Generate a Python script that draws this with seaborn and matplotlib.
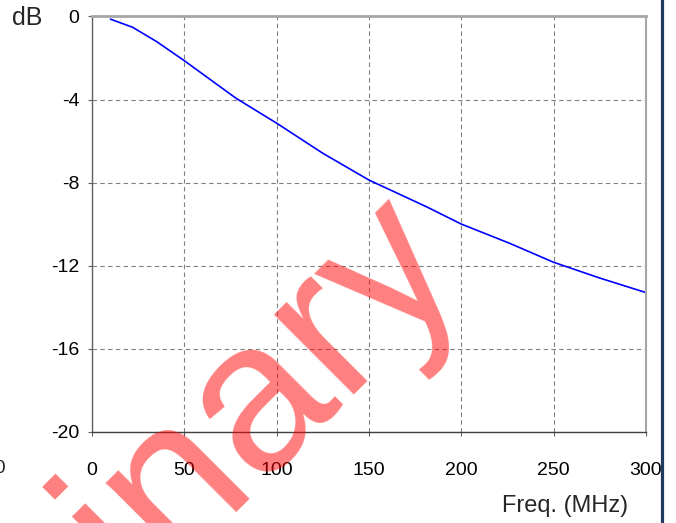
import matplotlib
matplotlib.use("Agg")
import matplotlib.pyplot as plt
from matplotlib.lines import Line2D
import pandas as pd
import seaborn as sns

# ── data ─────────────────────────────────────────────────────────────────────
freq_mhz = [10, 22, 35, 50, 78, 100, 125, 150, 181, 200, 226, 250, 275, 300]
loss_db = [-0.13, -0.52, -1.21, -2.13, -3.94, -5.14, -6.59, -7.88, -9.16,
           -10.0, -10.92, -11.84, -12.6, -13.3]
x_ticks = [0, 50, 100, 150, 200, 250, 300]
y_ticks = [0, -4, -8, -12, -16, -20]

df = pd.DataFrame({"freq": freq_mhz, "db": loss_db})

sns.set_theme(style="white")
plt.rcParams["font.family"] = ["Liberation Sans", "DejaVu Sans"]
plt.rcParams["axes.unicode_minus"] = False

fig = plt.figure(figsize=(6.76, 5.23), dpi=100)
ax = fig.add_axes([0.1361, 0.1746, 0.8195, 0.7939])

sns.lineplot(data=df, x="freq", y="db", color="#0000FF", lw=1.2, ax=ax)

ax.set_xlim(0, 300)
ax.set_ylim(-20, 0)
ax.set_xticks(x_ticks)
ax.set_yticks(y_ticks)
ax.set_xticklabels([str(v) for v in x_ticks])
ax.set_yticklabels([str(v) for v in y_ticks])
ax.set_xlabel("")
ax.set_ylabel("")

ax.grid(True, color="#808080", linestyle=(0, (4, 3)), lw=0.8)
ax.tick_params(axis="both", which="major", length=3, width=0.8,
               colors="#606060", labelcolor="black", labelsize=14,
               direction="out", left=True, bottom=True)
ax.tick_params(axis="x", pad=19)
ax.tick_params(axis="y", pad=6)

ax.spines["top"].set_color("#A6A6A6")
ax.spines["top"].set_linewidth(2)
ax.spines["right"].set_color("#A6A6A6")
ax.spines["right"].set_linewidth(1.5)
ax.spines["left"].set_color("#606060")
ax.spines["left"].set_linewidth(1)
ax.spines["bottom"].set_color("#404040")
ax.spines["bottom"].set_linewidth(1)

fig.text(0.0178, 0.952, "dB", fontsize=18, ha="left", va="baseline")
fig.text(0.929, 0.021, "Freq. (MHz)", fontsize=17, ha="right", va="baseline")
# cut-off label of the neighbouring chart
fig.text(0.009, 1 - 468.7 / 523, "300", fontsize=14, ha="right", va="center")

# dark frame edge on the right
fig.add_artist(Line2D([0.9786, 0.9786], [0, 1], color="#1F3A5F", lw=2.3,
                      transform=fig.transFigure))

# watermark
fig.text(0.689, 0.4917, "Preliminary", fontsize=154, color="red", alpha=0.5,
         rotation=45, rotation_mode="anchor", ha="right", va="baseline",
         zorder=10)

fig.savefig("out.png", dpi=100)
